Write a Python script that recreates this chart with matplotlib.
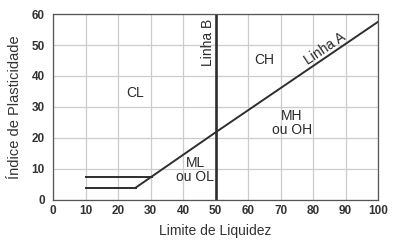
import numpy as np
import matplotlib.pyplot as plt

plt.rcParams['font.family'] = ['Liberation Sans', 'DejaVu Sans']

# Linha A
linha_a_ll = [25.5, 50, 100]
linha_a_ip = [4, 21.8, 57.5]
# faixa CL-ML
faixa_inf_ll = [10, 25.5]
faixa_inf_ip = [4, 4]
faixa_sup_ll = [10, 30.3]
faixa_sup_ip = [7.4, 7.4]
# Linha B
linha_b_ll = [50, 50]
linha_b_ip = [0, 60]

escuro = '#2e2e2e'

fig = plt.figure(figsize=(3.93, 2.42), dpi=100)
ax = fig.add_axes([0.135, 0.174, 0.827, 0.768])

ax.plot(linha_a_ll, linha_a_ip, color=escuro, lw=1.4)
ax.plot(faixa_inf_ll, faixa_inf_ip, color=escuro, lw=1.4)
ax.plot(faixa_sup_ll, faixa_sup_ip, color=escuro, lw=1.4)
ax.plot(linha_b_ll, linha_b_ip, color=escuro, lw=1.9)

ax.set_xlim(0, 100)
ax.set_ylim(0, 60)
ax.set_xticks(np.arange(0, 101, 10))
ax.set_yticks(np.arange(0, 61, 10))
ax.grid(True, color='#cccccc', lw=0.9)
ax.set_axisbelow(True)
ax.tick_params(length=0, labelsize=8.5, colors='#333333')
ax.tick_params(axis='y', pad=6)
ax.tick_params(axis='x', pad=4)
for lab in ax.get_xticklabels() + ax.get_yticklabels():
    lab.set_fontweight('bold')
for s in ax.spines.values():
    s.set_color('#555555')
    s.set_linewidth(0.9)

ax.set_xlabel('Limite de Liquidez', fontsize=10, color='#333333', labelpad=5)
ax.set_ylabel('Índice de Plasticidade', fontsize=10.5, color='#333333', labelpad=7)

tk = dict(fontsize=10, color='#2a2a2a', ha='center', va='center')
ax.text(25.3, 34.5, 'CL', **tk)
ax.text(65, 45, 'CH', **tk)
ax.text(73.5, 24.8, 'MH\nou OH', linespacing=1.0, **tk)
ax.text(43.7, 9.7, 'ML\nou OL', linespacing=1.0, **tk)
ax.text(47.6, 51, 'Linha B', rotation=90, **tk)
ax.text(83.7, 48.8, 'Linha A', rotation=34, **tk)

fig.savefig('out.png', dpi=100)
